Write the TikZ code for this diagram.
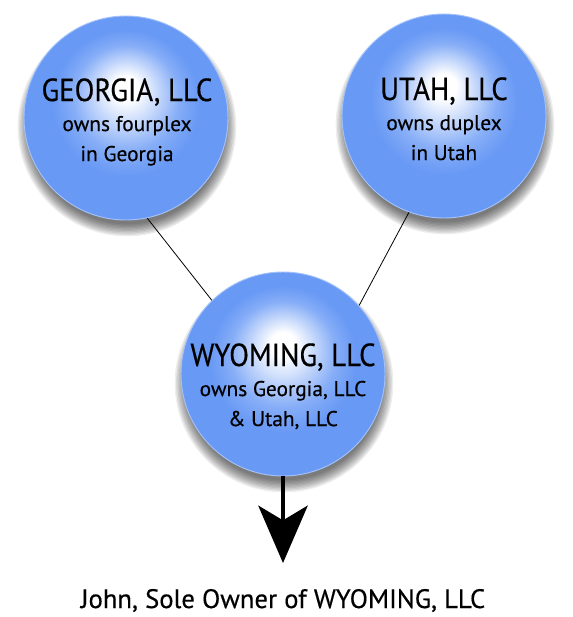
\documentclass[tikz,border=0pt]{standalone}
\usepackage{fontspec}
\setmainfont[FakeBold=0.4]{PT Sans}
\newfontfamily\namefont[FakeStretch=0.9,FakeBold=0.4]{PT Sans}
\usetikzlibrary{arrows.meta}
\usetikzlibrary{backgrounds}

\definecolor{ballblue}{RGB}{104,153,245}
\definecolor{balldark}{RGB}{40,90,212}
\pgfdeclareradialshading{ballshade}{\pgfpoint{0bp}{8bp}}{color(0bp)=(white); color(3bp)=(white); color(13bp)=(ballblue!80!white); color(18bp)=(ballblue); color(28bp)=(ballblue); color(33bp)=(balldark)}

\tikzset{
  ball/.style={circle, minimum size=153pt, inner sep=0pt, shading=ballshade, draw=white!40!ballblue, line width=0.7pt},
  ballshadow/.style={fill=black, opacity=0.07},
  llc/.style={align=center, inner sep=0pt, anchor=north, font=\fontsize{16}{22.5}\selectfont},
  link/.style={line width=0.6pt}
}

\begin{document}
\begin{tikzpicture}[x=0.75pt,y=-0.75pt]
		\useasboundingbox (0,0) rectangle (572,617);
		% the three companies
		\node[ball] (geo) at (126,118) {};
		\node[ball] (utah) at (444,116) {};
		\node[ball] (wyo) at (283,374) {};
		\begin{scope}[on background layer]
			\foreach \b in {geo,utah,wyo}
				\foreach \r in {1,...,10}
					\fill[ballshadow] ([shift={(1,9)}]\b.center) circle[radius=72pt+\r pt];
		\end{scope}
		\node[llc] (geo text) at (127,78) {{\namefont\fontsize{24}{23}\selectfont GEORGIA, LLC}\\owns fourplex\\in Georgia};
		\node[llc] (utah text) at (444,77) {{\namefont\fontsize{24}{23}\selectfont UTAH, LLC}\\owns duplex\\in Utah};
		\node[llc] (wyo text) at (283,343) {{\namefont\fontsize{24}{23}\selectfont WYOMING, LLC}\\owns Georgia, LLC\\\& Utah, LLC};
		\draw[link] (geo.282) -- (wyo.134);
		\draw[link] (utah.250) -- (wyo.42);
		% owner
		\coordinate (tip) at (283,563);
		\draw[line width=3pt,-{Stealth[length=43pt,width=37pt,inset=11pt]}] (wyo.south) -- (tip);
		\node[anchor=base,font=\fontsize{20}{24}\selectfont] (owner) at (283,608) {John, Sole Owner of WYOMING, LLC};
\end{tikzpicture}
\end{document}
